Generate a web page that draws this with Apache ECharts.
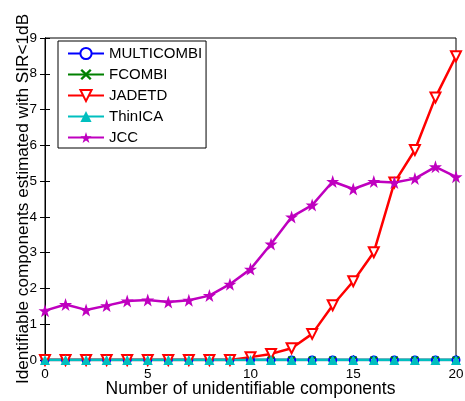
<!DOCTYPE html>
<html><head><meta charset="utf-8">
<script src="https://cdn.jsdelivr.net/npm/echarts@6/dist/echarts.min.js"></script>
<style>html,body{margin:0;padding:0;background:#fff}#c{width:465px;height:401px}</style>
</head><body><div id="c"></div>
<script>
var xValues = [0,1,2,3,4,5,6,7,8,9,10,11,12,13,14,15,16,17,18,19,20];
var multicombi = [0,0,0,0,0,0,0,0,0,0,0,0,0,0,0,0,0,0,0,0,0];
var fcombi = [0,0,0,0,0,0,0,0,0,0,0,0,0,0,0,0,0,0,0,0,0];
var jadetd = [0,0,0,0,0,0,0,0,0,0,0.08,0.17,0.33,0.73,1.53,2.2,3.01,4.96,5.87,7.34,8.49];
var thinica = [0,0,0,0,0,0,0,0,0,0,0,0,0,0,0,0,0,0,0,0,0];
var jcc = [1.38,1.55,1.4,1.52,1.65,1.68,1.62,1.67,1.8,2.12,2.54,3.24,4.0,4.33,4.99,4.78,4.99,4.96,5.07,5.4,5.12];
var seriesNames = ['MULTICOMBI','FCOMBI','JADETD','ThinICA','JCC'];
var xTitle = 'Number of unidentifiable components';
var yTitle = 'Identifiable components estimated with SIR<1dB';

function pairs(arr){ return xValues.map(function(x,i){return [x, arr[i]];}); }
var starPath = 'path://M50,0L61.8,35.1L98.1,35.1L68.7,56.7L79.4,90.9L50,70L20.6,90.9L31.3,56.7L1.9,35.1L38.2,35.1Z';
var xPath = 'path://M0,15L15,0L50,35L85,0L100,15L65,50L100,85L85,100L50,65L15,100L0,85L35,50Z';
var font = 'Liberation Sans';
var chart = echarts.init(document.getElementById('c'));
var tickStyle = {show:true, inside:true, length:5, lineStyle:{color:'#000', width:1}};
chart.setOption({
  animation:false,
  textStyle:{fontFamily:font},
  grid:{left:45, right:9, top:38, bottom:41, containLabel:false, outerBoundsMode:'none',
        show:true, borderColor:'#000', borderWidth:1},
  legend:{
    left:58, top:41, orient:'vertical', itemGap:6, itemWidth:36, itemHeight:14,
    padding:[5,4,3,9], borderColor:'#000', borderWidth:1, borderRadius:0, backgroundColor:'#fff',
    textStyle:{fontFamily:font, fontSize:15, color:'#000', padding:[0,0,0,0]},
    data:seriesNames
  },
  xAxis:[{
    type:'value', min:0, max:20, interval:5,
    name:xTitle, nameLocation:'middle', nameGap:20, nameMoveOverlap:false,
    nameTextStyle:{fontSize:17.5, color:'#000', fontFamily:font, verticalAlign:'top'},
    axisLine:{show:true, lineStyle:{color:'#000'}}, axisTick:tickStyle,
    axisLabel:{color:'#000', fontSize:13.5, margin:7, fontFamily:font},
    splitLine:{show:false}
  },{
    type:'value', min:0, max:20, interval:5, position:'top',
    axisLine:{show:true, lineStyle:{color:'#000'}}, axisTick:tickStyle,
    axisLabel:{show:false}, splitLine:{show:false}
  }],
  yAxis:[{
    type:'value', min:0, max:9, interval:1,
    name:yTitle, nameLocation:'middle', nameGap:13, nameRotate:90, nameMoveOverlap:false,
    nameTextStyle:{fontSize:17.2, color:'#000', fontFamily:font, verticalAlign:'bottom'},
    axisLine:{show:true, lineStyle:{color:'#000'}}, axisTick:tickStyle,
    axisLabel:{color:'#000', fontSize:13.5, margin:8, fontFamily:font},
    splitLine:{show:false}
  },{
    type:'value', min:0, max:9, interval:1, position:'right',
    axisLine:{show:true, lineStyle:{color:'#000'}}, axisTick:tickStyle,
    axisLabel:{show:false}, splitLine:{show:false}
  }],
  series:[
    {name:'MULTICOMBI', type:'line', data:pairs(multicombi), symbol:'emptyCircle', symbolSize:7,
     lineStyle:{width:2.5, color:'#0000ff'}, itemStyle:{color:'#0000ff', borderWidth:1.5}},
    {name:'FCOMBI', type:'line', data:pairs(fcombi), symbol:xPath, symbolSize:8,
     lineStyle:{width:2.5, color:'#008000'}, itemStyle:{color:'#008000'}},
    {name:'JADETD', type:'line', data:pairs(jadetd), symbol:'emptyTriangle', symbolRotate:180, symbolSize:10,
     lineStyle:{width:2.5, color:'#ff0000'}, itemStyle:{color:'#ff0000', borderWidth:1.5}},
    {name:'ThinICA', type:'line', data:pairs(thinica), symbol:'triangle', symbolSize:10,
     lineStyle:{width:2.5, color:'#00bfbf'}, itemStyle:{color:'#00bfbf'}},
    {name:'JCC', type:'line', data:pairs(jcc), symbol:starPath, symbolSize:13,
     lineStyle:{width:2.5, color:'#bf00bf'}, itemStyle:{color:'#bf00bf'}}
  ]
});
</script></body></html>
